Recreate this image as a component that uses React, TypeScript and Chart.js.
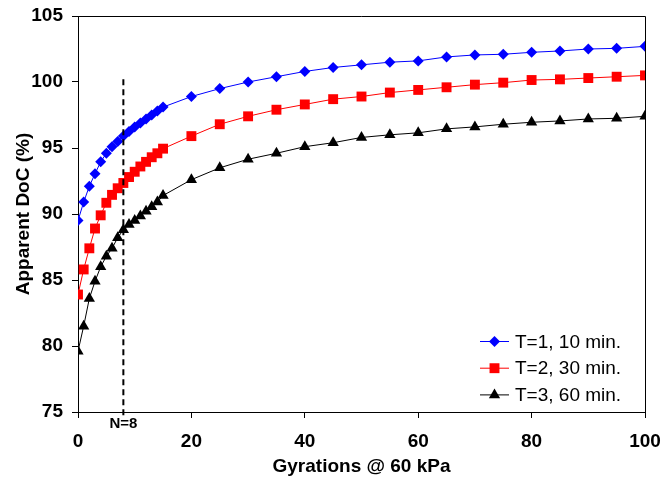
import React, { useEffect, useRef } from "react";
import { Chart, registerables } from "chart.js";

Chart.register(...registerables);

const GYRATIONS = [0, 1, 2, 3, 4, 5, 6, 7, 8, 9, 10, 11, 12, 13, 14, 15, 20, 25, 30, 35, 40, 45, 50, 55, 60, 65, 70, 75, 80, 85, 90, 95, 100];
const T1_10MIN = [89.5, 90.9, 92.1, 93.05, 93.95, 94.6, 95.1, 95.5, 95.9, 96.25, 96.6, 96.9, 97.2, 97.5, 97.8, 98.1, 98.9, 99.5, 100.0, 100.4, 100.8, 101.1, 101.3, 101.5, 101.6, 101.9, 102.05, 102.1, 102.25, 102.35, 102.5, 102.55, 102.7];
const T2_30MIN = [83.9, 85.8, 87.4, 88.9, 89.9, 90.85, 91.45, 91.95, 92.35, 92.8, 93.2, 93.6, 93.95, 94.3, 94.6, 94.95, 95.9, 96.8, 97.4, 97.9, 98.3, 98.7, 98.9, 99.2, 99.4, 99.6, 99.8, 99.95, 100.15, 100.2, 100.3, 100.4, 100.5];
const T3_60MIN = [79.6, 81.5, 83.6, 84.9, 86.0, 86.8, 87.4, 88.2, 88.8, 89.2, 89.5, 89.85, 90.2, 90.55, 90.9, 91.4, 92.6, 93.5, 94.15, 94.6, 95.1, 95.4, 95.8, 96.0, 96.15, 96.45, 96.6, 96.8, 96.95, 97.05, 97.2, 97.25, 97.4];
const SERIES_LABELS = ["T=1, 10 min.", "T=2, 30 min.", "T=3, 60 min."];
const N_LINE_X = 8;
const N_LINE_TOP = 100.2;
const N_LABEL = "N=8";
const X_TITLE = "Gyrations @ 60 kPa";
const Y_TITLE = "Apparent DoC (%)";

const FONT = "'Liberation Sans', Arial, sans-serif";

export default function App() {
  const ref = useRef<HTMLCanvasElement | null>(null);

  useEffect(() => {
    const canvas = ref.current;
    if (!canvas) return;

    const mk = (vals: number[]) => GYRATIONS.map((x, i) => ({ x, y: vals[i] }));

    function drawMarker(ctx: CanvasRenderingContext2D, style: string, r: number, x: number, y: number) {
      ctx.beginPath();
      if (style === "rectRot") {
        ctx.moveTo(x - r, y);
        ctx.lineTo(x, y - r);
        ctx.lineTo(x + r, y);
        ctx.lineTo(x, y + r);
      } else if (style === "rect") {
        const s = Math.SQRT1_2 * r;
        ctx.rect(x - s, y - s, 2 * s, 2 * s);
      } else {
        let rad = 0;
        ctx.moveTo(x + Math.sin(rad) * r, y - Math.cos(rad) * r);
        rad += (2 * Math.PI) / 3;
        ctx.lineTo(x + Math.sin(rad) * r, y - Math.cos(rad) * r);
        rad += (2 * Math.PI) / 3;
        ctx.lineTo(x + Math.sin(rad) * r, y - Math.cos(rad) * r);
      }
      ctx.closePath();
      ctx.fill();
    }

    const decor = {
      id: "decor",
      afterDatasetsDraw(chart: any) {
        const { ctx, chartArea, scales } = chart;
        const xs = scales.x;
        const ys = scales.y;
        ctx.save();
        // plot box (top/right)
        ctx.strokeStyle = "#000";
        ctx.lineWidth = 1;
        ctx.beginPath();
        ctx.moveTo(chartArea.left, Math.round(chartArea.top) + 0.5);
        ctx.lineTo(Math.round(chartArea.right) + 0.5, Math.round(chartArea.top) + 0.5);
        ctx.lineTo(Math.round(chartArea.right) + 0.5, chartArea.bottom);
        ctx.stroke();
        // dashed N line
        const nx = xs.getPixelForValue(N_LINE_X);
        ctx.setLineDash([6, 4]);
        ctx.lineWidth = 2;
        ctx.beginPath();
        ctx.moveTo(nx, ys.getPixelForValue(N_LINE_TOP));
        ctx.lineTo(nx, chartArea.bottom + 6);
        ctx.stroke();
        ctx.setLineDash([]);
        // N label
        ctx.fillStyle = "#000";
        ctx.font = `bold 15px ${FONT}`;
        ctx.textAlign = "center";
        ctx.textBaseline = "middle";
        ctx.fillText(N_LABEL, nx, chartArea.bottom + 12);
        // legend
        const right = chartArea.right;
        chart.data.datasets.forEach((ds: any, i: number) => {
          const y = chartArea.bottom - 70.5 + i * 26.7;
          const x0 = right - 165;
          const x1 = right - 136;
          ctx.strokeStyle = ds.borderColor;
          ctx.lineWidth = 1;
          ctx.beginPath();
          ctx.moveTo(x0, y);
          ctx.lineTo(x1, y);
          ctx.stroke();
          ctx.fillStyle = ds.backgroundColor;
          drawMarker(ctx, ds.pointStyle, ds.pointRadius, (x0 + x1) / 2, y);
          ctx.fillStyle = "#000";
          ctx.font = `19px ${FONT}`;
          ctx.textAlign = "left";
          ctx.textBaseline = "middle";
          ctx.fillText(ds.label, right - 130, y + 1);
        });
        ctx.restore();
      },
    };

    const chart = new Chart(canvas, {
      type: "line",
      data: {
        datasets: [
          {
            label: SERIES_LABELS[0],
            data: mk(T1_10MIN),
            borderColor: "#0000FF",
            backgroundColor: "#0000FF",
            borderWidth: 1,
            pointStyle: "rectRot",
            pointRadius: 5.5,
            pointBorderWidth: 0,
          },
          {
            label: SERIES_LABELS[1],
            data: mk(T2_30MIN),
            borderColor: "#FF0000",
            backgroundColor: "#FF0000",
            borderWidth: 1,
            pointStyle: "rect",
            pointRadius: 7,
            pointBorderWidth: 0,
          },
          {
            label: SERIES_LABELS[2],
            data: mk(T3_60MIN),
            borderColor: "#000000",
            backgroundColor: "#000000",
            borderWidth: 1,
            pointStyle: "triangle",
            pointRadius: 6.5,
            pointBorderWidth: 0,
          },
        ],
      },
      options: {
        animation: false,
        responsive: false,
        maintainAspectRatio: false,
        layout: { padding: { top: 16, right: 16, left: 0, bottom: 0 } },
        plugins: {
          legend: { display: false },
          tooltip: { enabled: false },
        },
        scales: {
          x: {
            type: "linear",
            min: 0,
            max: 100,
            ticks: { stepSize: 20, color: "#000", font: { family: FONT, size: 19, weight: "bold" }, padding: 12, maxRotation: 0 },
            grid: { drawOnChartArea: false, drawTicks: true, tickLength: 6, color: "#000" },
            border: { display: true, color: "#000", width: 1 },
            title: { display: true, text: X_TITLE, color: "#000", font: { family: FONT, size: 19, weight: "bold" }, padding: { top: 0, bottom: 0 } },
            afterFit(scale: any) {
              scale.height = 66;
              scale.paddingLeft = 0;
              scale.paddingRight = 0;
            },
          },
          y: {
            min: 75,
            max: 105,
            ticks: { stepSize: 5, color: "#000", font: { family: FONT, size: 19, weight: "bold" }, padding: 9 },
            grid: { drawOnChartArea: false, drawTicks: true, tickLength: 6, color: "#000" },
            border: { display: true, color: "#000", width: 1 },
            title: { display: true, text: Y_TITLE, color: "#000", font: { family: FONT, size: 19, weight: "bold" }, padding: { top: 12, bottom: 0 } },
            afterFit(scale: any) {
              scale.width = 78;
              scale.paddingTop = 0;
              scale.paddingBottom = 0;
            },
          },
        },
      } as any,
      plugins: [decor],
    });

    return () => chart.destroy();
  }, []);

  return (
    <div style={{ position: "fixed", left: 0, top: 0, width: 661, height: 478, background: "#fff" }}>
      <canvas ref={ref} width={661} height={478} style={{ display: "block" }} />
    </div>
  );
}
